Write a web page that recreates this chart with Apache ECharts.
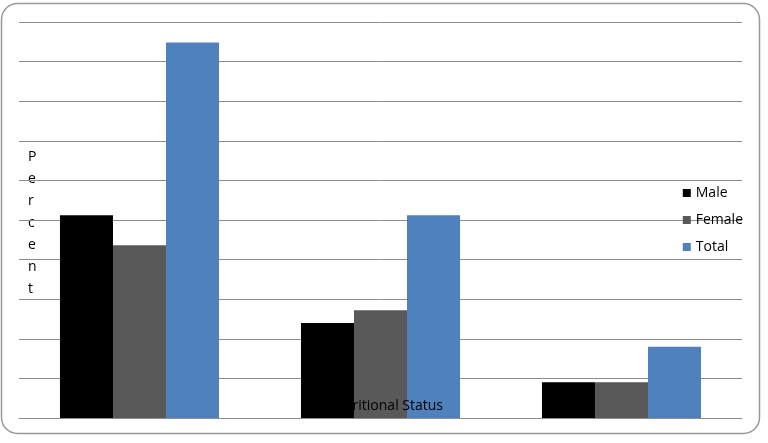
<!DOCTYPE html>
<html><head><meta charset="utf-8">
<script src="https://cdn.jsdelivr.net/npm/echarts@6/dist/echarts.min.js"></script>
<style>html,body{margin:0;padding:0;background:#fff}#c{width:768px;height:443px}</style>
</head><body><div id="c"></div>
<script>
const categories = ['Group 1', 'Group 2', 'Group 3'];
const male = [25.6, 12.0, 4.5];
const female = [21.8, 13.6, 4.5];
const total = [47.4, 25.6, 9.0];
const seriesNames = ['Male', 'Female', 'Total'];
const yMax = 50, yInterval = 5;

const chart = echarts.init(document.getElementById('c'), null, {renderer: 'canvas'});
const font = 'Open Sans, Noto Sans, sans-serif';
chart.setOption({
  animation: false,
  backgroundColor: '#fff',
  grid: {left: 19, right: 26, top: 22, bottom: 25},
  legend: {
    orient: 'vertical', right: 20, top: 181, itemGap: 13,
    itemWidth: 8, itemHeight: 8, icon: 'rect',
    textStyle: {fontFamily: font, fontSize: 14, color: '#000', padding: [0, 0, 0, 0]},
    data: seriesNames
  },
  xAxis: {
    type: 'category', data: categories,
    axisLine: {show: true, lineStyle: {color: '#8c8c8c', width: 1}},
    axisTick: {show: false}, axisLabel: {show: false}
  },
  yAxis: {
    type: 'value', min: 0, max: yMax, interval: yInterval,
    axisLine: {show: false}, axisTick: {show: false}, axisLabel: {show: false},
    splitLine: {lineStyle: {color: '#8c8c8c', width: 1}}
  },
  graphic: [
    {type: 'rect', z: 0, shape: {x: 1.5, y: 3.5, width: 758, height: 430, r: 16},
     style: {fill: 'none', stroke: '#999', lineWidth: 1.5}},
    {type: 'text', z: 0, left: 28, top: 146,
     style: {text: 'P\ne\nr\nc\ne\nn\nt', fontFamily: font, fontSize: 14, lineHeight: 22, align: 'center', fill: '#000'}},
    {type: 'text', z: 100, x: 443, y: 406,
     style: {text: 'Nutritional Status', fontFamily: font, fontSize: 14, align: 'right', verticalAlign: 'middle', fill: '#000'}}
  ],
  series: [
    {name: 'Male', type: 'bar', data: male, z: 5, barGap: '0%', barCategoryGap: '34%', itemStyle: {color: '#000000'}},
    {name: 'Female', type: 'bar', data: female, z: 5, itemStyle: {color: '#595959'}},
    {name: 'Total', type: 'bar', data: total, z: 5, itemStyle: {color: '#4f81bd'}}
  ]
});
</script></body></html>
